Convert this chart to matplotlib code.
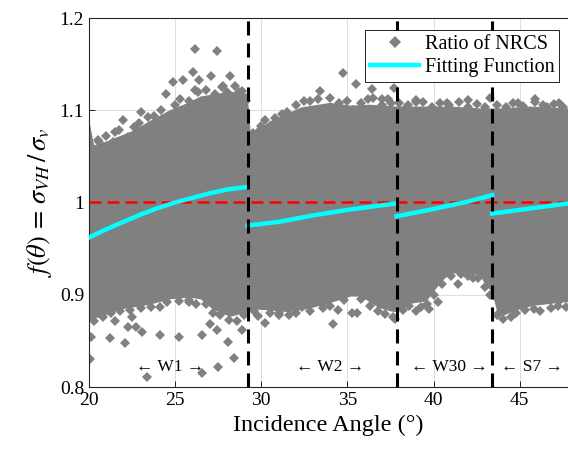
import numpy as np
import matplotlib
matplotlib.use('Agg')
import matplotlib.pyplot as plt

plt.rcParams['font.family'] = ['Liberation Serif', 'DejaVu Serif']
plt.rcParams['mathtext.fontset'] = 'stix'
plt.rcParams['xtick.direction'] = 'in'
plt.rcParams['ytick.direction'] = 'in'

# dense body of the NRCS ratio cloud (upper / lower envelope)
up_angle = [20.0, 20.3, 21.0, 21.8, 22.6, 23.5, 24.7, 25.5, 26.5, 27.5, 28.2, 29.2, 29.4, 30.5,
            31.5, 32.3, 34.0, 35.2, 36.3, 37.85, 39.2, 41.0, 42.7, 43.9, 45.6, 47.8]
up_ratio = [1.090, 1.062, 1.066, 1.072, 1.078, 1.088, 1.100, 1.106, 1.115, 1.118, 1.120, 1.118,
            1.072, 1.088, 1.096, 1.103, 1.108, 1.105, 1.106, 1.104, 1.104, 1.104, 1.102, 1.102,
            1.104, 1.102]
low_angle = [20.0, 20.3, 21.0, 21.8, 23.5, 24.7, 25.8, 26.5, 27.2, 28.2, 29.0, 29.65, 30.5, 31.6,
             32.8, 34.0, 35.2, 35.8, 36.8, 37.5, 37.85, 38.6, 39.6, 40.0, 40.5, 41.0, 42.0, 42.7,
             43.0, 43.4, 43.7, 44.0, 44.8, 45.8, 47.2, 47.8]
low_ratio = [0.870, 0.874, 0.878, 0.884, 0.889, 0.895, 0.897, 0.895, 0.884, 0.876, 0.880, 0.884,
             0.883, 0.881, 0.885, 0.891, 0.898, 0.898, 0.886, 0.882, 0.881, 0.890, 0.893, 0.903,
             0.915, 0.923, 0.923, 0.921, 0.911, 0.903, 0.881, 0.877, 0.883, 0.888, 0.891, 0.892]

# scattered points outside the dense body
pt_angle = [26.16, 27.44, 26.05, 27.09, 28.20, 24.88, 25.47, 26.40, 26.16, 24.48, 21.98, 21.74,
            22.27, 23.43, 21.28, 21.51, 34.77, 35.52, 33.43, 30.23, 29.88, 36.40, 36.51, 36.98,
            37.38, 37.73, 38.31, 38.72, 35.35, 39.00, 43.26, 44.88, 46.34, 47.27, 38.95, 41.98,
            27.80, 28.70, 23.00, 20.60, 32.50, 31.20, 40.80, 45.90,
            23.37, 20.06, 21.22, 22.09, 22.27, 22.73, 23.08, 24.13, 25.23, 26.57, 27.03, 27.44,
            28.08, 28.43, 27.50, 26.57, 28.90, 20.12, 22.50, 24.13, 29.83, 30.23, 34.19, 34.48,
            35.29, 35.58, 37.67, 37.78, 33.02, 32.38, 33.60, 39.24, 39.71, 40.23, 43.55, 44.48,
            44.02, 47.33, 47.70, 41.40, 42.30, 31.00, 25.80, 21.50]
pt_ratio = [1.166, 1.164, 1.141, 1.137, 1.137, 1.131, 1.133, 1.133, 1.122, 1.118, 1.089, 1.079,
            1.071, 1.093, 1.059, 1.076, 1.140, 1.128, 1.121, 1.089, 1.077, 1.123, 1.113, 1.112,
            1.112, 1.124, 1.100, 1.098, 1.100, 1.111, 1.113, 1.108, 1.106, 1.108, 1.109, 1.111,
            1.126, 1.120, 1.098, 1.066, 1.110, 1.096, 1.108, 1.112,
            0.811, 0.830, 0.853, 0.848, 0.865, 0.865, 0.860, 0.856, 0.854, 0.856, 0.868, 0.862,
            0.849, 0.831, 0.822, 0.815, 0.862, 0.854, 0.876, 0.887, 0.877, 0.869, 0.868, 0.884,
            0.880, 0.880, 0.876, 0.874, 0.894, 0.887, 0.886, 0.887, 0.885, 0.892, 0.899, 0.876,
            0.888, 0.894, 0.887, 0.912, 0.918, 0.880, 0.892, 0.872]

# points sitting on the ragged rim of the dense body
edge_angle = [20.5, 21.0, 21.4, 22.6, 22.9, 23.8, 24.2, 25.0, 25.3, 25.8, 26.3, 26.8, 27.3, 27.7,
              28.0, 28.5, 28.9, 29.1, 29.5, 30.0, 30.8, 31.5, 32.0, 32.8, 33.3, 34.0, 34.5, 35.0,
              35.8, 36.2, 37.0, 37.5, 38.0, 38.5, 39.4, 39.9, 40.4, 40.9, 41.5, 42.0, 42.5, 43.0,
              43.7, 44.2, 44.6, 45.2, 45.9, 46.6, 47.0, 47.5,
              20.3, 20.8, 21.3, 21.8, 22.4, 23.0, 23.6, 24.5, 25.2, 25.8, 26.2, 26.8, 27.2, 27.6,
              28.1, 28.6, 29.0, 29.6, 30.5, 31.0, 31.6, 32.0, 32.8, 33.5, 34.0, 34.8, 35.8, 36.3,
              36.8, 37.2, 38.2, 38.6, 39.0, 39.6, 40.0, 40.5, 41.0, 41.6, 42.0, 42.6, 43.0, 43.3,
              43.7, 44.0, 44.8, 45.3, 45.8, 46.2, 46.8, 47.2]
edge_ratio = [1.068, 1.072, 1.066, 1.082, 1.086, 1.094, 1.100, 1.106, 1.112, 1.110, 1.120, 1.122,
              1.118, 1.125, 1.120, 1.126, 1.121, 1.110, 1.075, 1.083, 1.092, 1.098, 1.106, 1.110,
              1.112, 1.113, 1.108, 1.110, 1.108, 1.112, 1.106, 1.108, 1.108, 1.106, 1.109, 1.104,
              1.108, 1.106, 1.109, 1.104, 1.107, 1.104, 1.106, 1.104, 1.108, 1.105, 1.109, 1.104,
              1.107, 1.104,
              0.872, 0.876, 0.880, 0.882, 0.884, 0.886, 0.887, 0.892, 0.893, 0.894, 0.890, 0.890,
              0.880, 0.878, 0.873, 0.872, 0.878, 0.882, 0.880, 0.878, 0.878, 0.880, 0.882, 0.890,
              0.888, 0.894, 0.895, 0.888, 0.882, 0.879, 0.884, 0.888, 0.882, 0.890, 0.900, 0.912,
              0.920, 0.922, 0.920, 0.918, 0.908, 0.900, 0.878, 0.874, 0.880, 0.883, 0.885, 0.882,
              0.886, 0.888]

# fitting function, one piece per beam mode
fit_angle = [[20.0, 21.0, 22.0, 23.0, 24.0, 25.0, 26.0, 27.0, 28.0, 29.2],
             [29.2, 31.0, 33.0, 35.0, 37.85],
             [37.85, 40.0, 42.0, 43.4],
             [43.4, 45.0, 47.8]]
fit_value = [[0.962, 0.971, 0.979, 0.987, 0.994, 1.000, 1.005, 1.010, 1.014, 1.017],
             [0.975, 0.979, 0.986, 0.992, 0.999],
             [0.985, 0.993, 1.001, 1.008],
             [0.988, 0.992, 0.999]]

mode_edges = [29.2, 37.85, 43.4]
mode_names = ['W1', 'W2', 'W30', 'S7']
mode_label_x = [24.7, 34.0, 40.9, 45.7]

fig = plt.figure(figsize=(5.68, 4.5), dpi=100)
ax = fig.add_axes([0.1567, 0.14, 0.8433, 0.82])

gray = '#808080'
# the cloud is so dense it reads as a solid band: fill between the two envelopes
ax.fill(up_angle + low_angle[::-1], up_ratio + low_ratio[::-1], color=gray, lw=0, zorder=2)
ax.plot(edge_angle, edge_ratio, 'D', color=gray, ms=5.5, mew=0, zorder=2)
ax.plot(pt_angle, pt_ratio, 'D', color=gray, ms=5.5, mew=0, zorder=2, label='Ratio of NRCS')

for i in range(len(fit_angle)):
    ax.plot(fit_angle[i], fit_value[i], color='#00FFFF', lw=3.2, zorder=4,
            label='Fitting Function' if i == 0 else None)

ax.plot([20, 47.8], [1, 1], '--', color='red', lw=1.8, dashes=(4.8, 2.4), zorder=3)
for e in mode_edges:
    ax.axvline(e, color='black', ls='--', lw=2.2, dashes=(4.6, 2.6), zorder=5)

for x, n in zip(mode_label_x, mode_names):
    ax.text(x, 0.822, '\u2190 ' + n + ' \u2192', ha='center', va='center', fontsize=12.5,
            family=['Liberation Serif', 'DejaVu Serif'])

ax.set_xlim(20, 47.8)
ax.set_ylim(0.8, 1.2)
ax.set_xticks([20, 25, 30, 35, 40, 45])
ax.set_yticks([0.8, 0.9, 1.0, 1.1, 1.2])
ax.set_yticklabels(['0.8', '0.9', '1', '1.1', '1.2'])
ax.tick_params(labelsize=14, length=4, width=0.6)
ax.grid(True, color='#dddddd', lw=0.7, zorder=0)
ax.set_axisbelow(True)
ax.spines['right'].set_visible(False)
for s in ['left', 'top', 'bottom']:
    ax.spines[s].set_linewidth(0.8)
    ax.spines[s].set_color('#262626')

ax.set_xlabel('Incidence Angle (\u00b0)', fontsize=17.5)
ax.set_ylabel(r'$f(\theta)\,=\,\sigma_{VH}\,/\,\sigma_{v}$', fontsize=19)

leg = ax.legend(loc='upper right', bbox_to_anchor=(0.982, 0.968), fontsize=14.5, fancybox=False,
                framealpha=1, edgecolor='black', borderpad=0.25, labelspacing=0.2,
                handlelength=2.4, handletextpad=0.3, borderaxespad=0, markerscale=1.1)
leg.get_frame().set_linewidth(0.6)

fig.savefig('out.png', dpi=100)
